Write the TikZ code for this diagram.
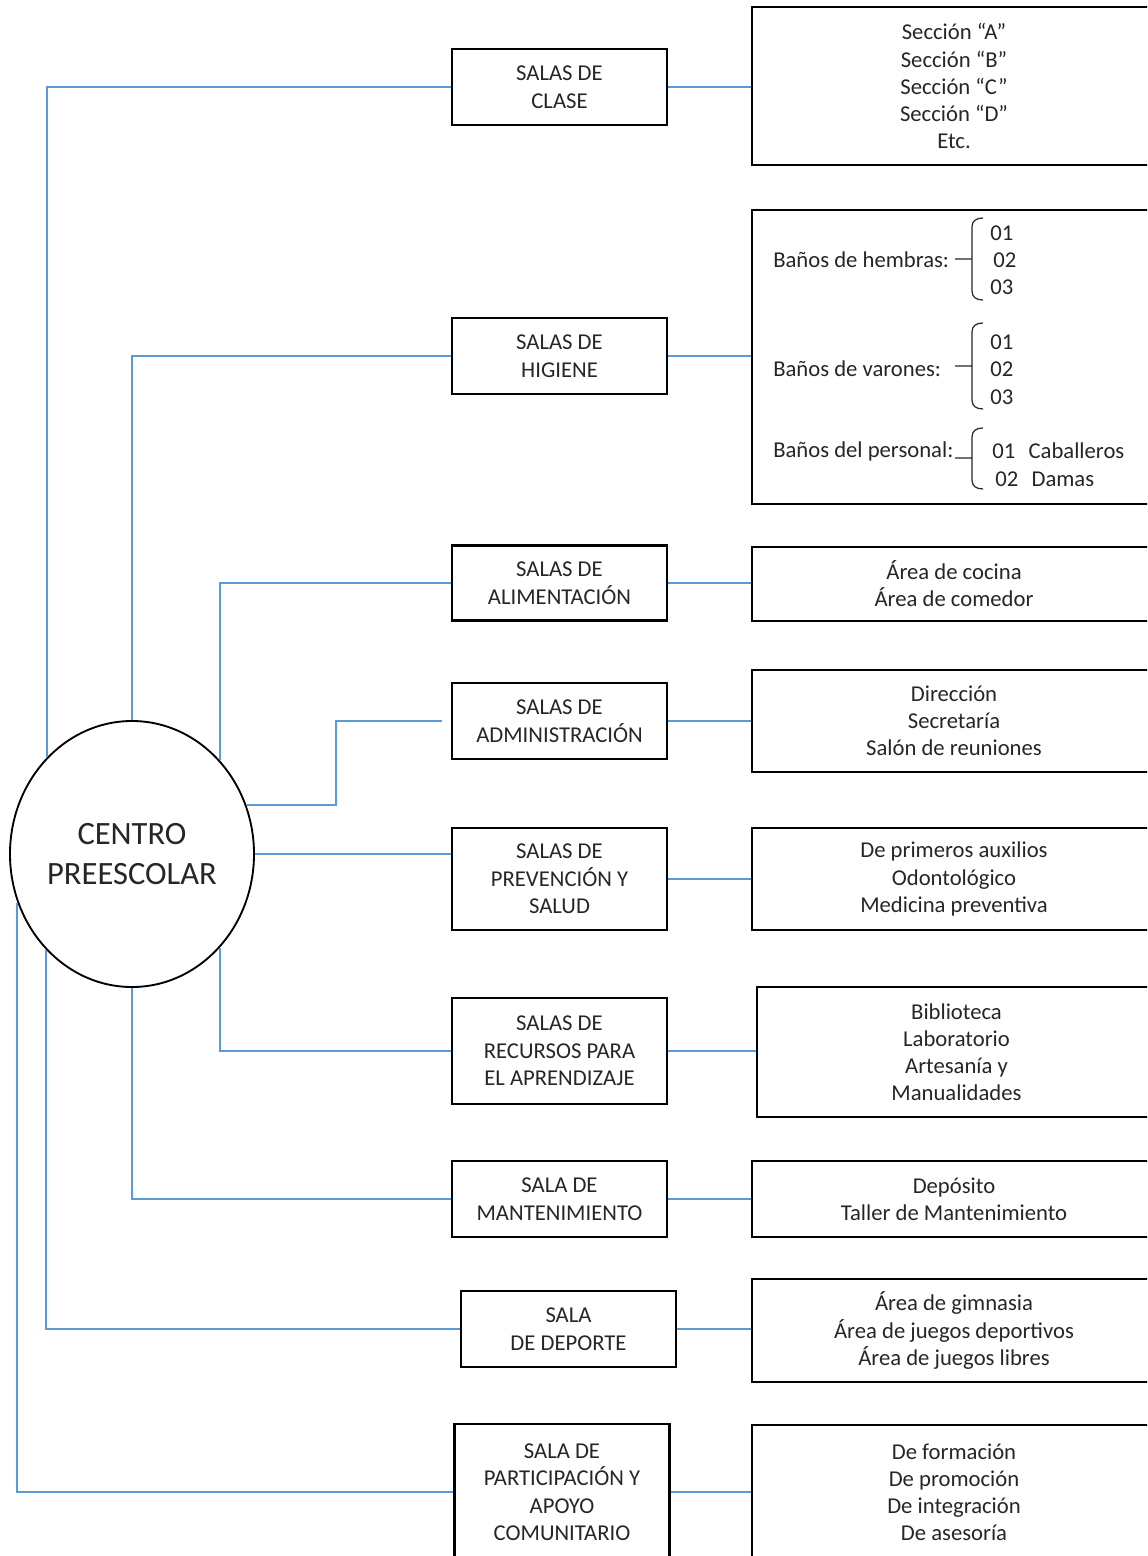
\documentclass[tikz,border=0pt]{standalone}
\usepackage{fontspec}
\setmainfont{Carlito}
\usetikzlibrary{shapes.geometric}
\definecolor{linkblue}{HTML}{5B9BD5}
\definecolor{txtgray}{HTML}{262626}

\begin{document}
\begin{tikzpicture}[x=0.75pt,y=-0.75pt,
  salabox/.style={draw,line width=1.8pt,minimum width=161.25pt,inner sep=0pt,
    align=center,text=txtgray,font=\fontsize{17}{20.6}\selectfont},
  areabox/.style={salabox,minimum width=303pt,font=\fontsize{17}{20.3}\selectfont},
  lbl/.style={anchor=west,inner sep=0pt,text=txtgray,font=\fontsize{17}{20.3}\selectfont},
  conn/.style={linkblue,line width=1.5pt}]
  \useasboundingbox (0,0) rectangle (1147,1556);
  \clip (0,0) rectangle (1147,1556);
  % centre
  \node[draw,ellipse,line width=1.4pt,minimum width=183pt,minimum height=199.5pt,
    inner sep=0pt,align=center,text=txtgray,font=\fontsize{24.4}{30}\selectfont]
    (centro) at (132,854) {CENTRO\\PREESCOLAR};
  % salas
  \node[salabox,minimum height=57pt] (clase) at (559.5,87) {SALAS DE\\CLASE};
  \node[salabox,minimum height=57pt] (higiene) at (559.5,356) {SALAS DE\\HIGIENE};
  \node[salabox,minimum height=56pt] (alim) at (559.5,583) {SALAS DE\\ALIMENTACIÓN};
  \node[salabox,minimum height=57pt] (adm) at (559.5,721) {SALAS DE\\ADMINISTRACIÓN};
  \node[salabox,minimum height=76.5pt] (prev) at (559.5,879) {SALAS DE\\PREVENCIÓN Y\\SALUD};
  \node[salabox,minimum height=79.5pt] (recursos) at (559.5,1051) {SALAS DE\\RECURSOS PARA\\EL APRENDIZAJE};
  \node[salabox,minimum height=57pt] (mant) at (559.5,1199) {SALA DE\\MANTENIMIENTO};
  \node[salabox,minimum height=57pt] (deporte) at (568.5,1329) {SALA\\DE DEPORTE};
  \node[salabox,minimum height=102pt] (partic) at (562,1492) {SALA DE\\PARTICIPACIÓN Y\\APOYO\\COMUNITARIO};
  % areas
  \node[areabox,minimum height=118.5pt] (rclase) at (954,86) {Sección “A”\\Sección “B”\\Sección “C”\\Sección “D”\\Etc.};
  \node[areabox,minimum height=220.5pt] (rhigiene) at (954,357) {};
  \node[areabox,minimum height=55.5pt] (ralim) at (954,584) {Área de cocina\\Área de comedor};
  \node[areabox,minimum height=76.5pt] (radm) at (954,721) {Dirección\\Secretaría\\Salón de reuniones};
  \node[areabox,minimum height=76.5pt] (rprev) at (954,879) {De primeros auxilios\\Odontológico\\Medicina preventiva};
  \node[areabox,minimum width=299.25pt,minimum height=97.5pt] (rrecursos) at (956.5,1052) {Biblioteca\\Laboratorio\\Artesanía y\\Manualidades};
  \node[areabox,minimum height=57pt] (rmant) at (954,1199) {Depósito\\Taller de Mantenimiento};
  \node[areabox,minimum height=77.25pt] (rdeporte) at (954,1330.5) {Área de gimnasia\\Área de juegos deportivos\\Área de juegos libres};
  \node[areabox,minimum height=101.25pt] (rpartic) at (954,1492.5) {De formación\\De promoción\\De integración\\De asesoría};
  % higiene detail
  \node[lbl] (hemb) at (773,260) {Baños de hembras:};
  \node[lbl] (hemb1) at (990,233) {01};
  \node[lbl] (hemb2) at (993,260) {02};
  \node[lbl] (hemb3) at (990,287) {03};
  \node[lbl] (varo) at (773,369) {Baños de varones:};
  \node[lbl] (varo1) at (990,342) {01};
  \node[lbl] (varo2) at (990,369) {02};
  \node[lbl] (varo3) at (990,397) {03};
  \node[lbl] (pers) at (773,451) {Baños del personal:};
  \node[lbl] (pers1) at (992,451) {01\hspace{10pt}Caballeros};
  \node[lbl] (pers2) at (995,479) {02\hspace{10pt}Damas};
  \foreach \top/\mid/\bot in {218/259/300, 323/366/409, 428/458/489}
    \draw[txtgray,line width=0.9pt] (983,\top) .. controls (976,\top) and (972,\top+3) .. (972,\top+9)
      -- (972,\bot-9) .. controls (972,\bot-3) and (976,\bot) .. (983,\bot)
      (955,\mid) -- (972,\mid);
  % connectors
  \coordinate (admbend) at (336,721);
  \draw[conn] (centro.131.7) |- (clase.west);
  \draw[conn] (centro.north) |- (higiene.west);
  \draw[conn] (centro.47) |- (alim.west);
  \draw[conn] (centro.23.4) -| (admbend) -- ([xshift=-6.75pt]adm.west);
  \draw[conn] (centro.east) -- (centro.east -| prev.west);
  \draw[conn] (centro.-47) |- (recursos.west);
  \draw[conn] (centro.south) |- (mant.west);
  \draw[conn] (centro.228.3) |- (deporte.west);
  \draw[conn] (centro.203.9) |- (partic.west);
  \foreach \a/\b in {clase/rclase, higiene/rhigiene, alim/ralim, adm/radm, prev/rprev,
      recursos/rrecursos, mant/rmant, deporte/rdeporte, partic/rpartic}
    \draw[conn] (\a.east) -- (\a.east -| \b.west);
\end{tikzpicture}
\end{document}
